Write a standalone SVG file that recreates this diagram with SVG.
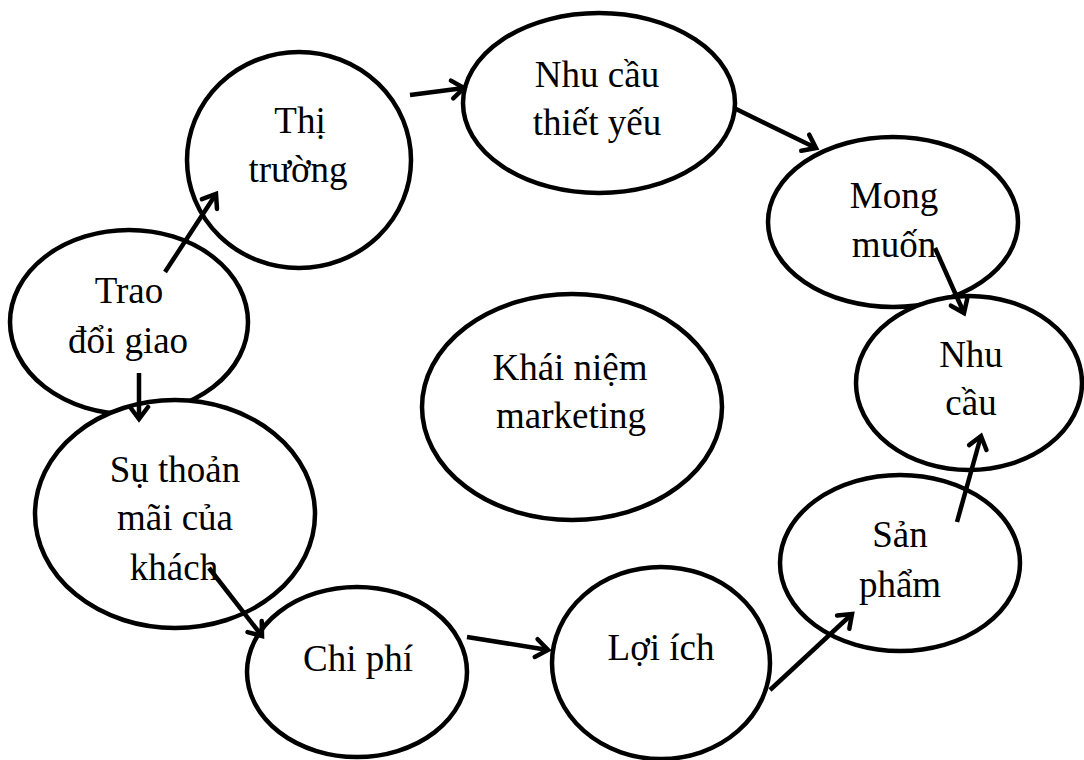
<svg xmlns="http://www.w3.org/2000/svg" width="1084" height="760" viewBox="0 0 1084 760">
<style>
.n{fill:#fff;stroke:#000;stroke-width:4.5}
.t{font-family:"Liberation Serif","Times New Roman",serif;font-size:37px;fill:#000;text-anchor:middle}
.c{stroke:#000;stroke-width:4.5;fill:none;marker-end:url(#ah)}
</style>
<defs>
<marker id="ah" markerUnits="userSpaceOnUse" viewBox="0 0 24 24" markerWidth="24" markerHeight="24" refX="16" refY="12" orient="auto">
<path d="M4,3 L16,12 L4,21" fill="none" stroke="#000" stroke-width="4.5" stroke-linejoin="miter" stroke-linecap="round"/>
</marker>
</defs>
<rect width="1084" height="760" fill="#fff"/>
<g id="node-thitruong"><ellipse class="n" cx="299" cy="160" rx="112" ry="108"/><text class="t" x="300" y="133">Thị</text><text class="t" x="298" y="182">trường</text></g>
<g id="node-traodoi"><ellipse class="n" cx="129" cy="322" rx="119" ry="92"/><text class="t" x="129" y="303">Trao</text><text class="t" x="128" y="353">đổi giao</text></g>
<g id="node-nhucauthietyeu"><ellipse class="n" cx="599" cy="103" rx="136" ry="90"/><text class="t" x="597" y="87">Nhu cầu</text><text class="t" x="597" y="135">thiết yếu</text></g>
<g id="node-mongmuon"><ellipse class="n" cx="893" cy="222" rx="125" ry="85"/><text class="t" x="894" y="208">Mong</text><text class="t" x="894" y="257">muốn</text></g>
<g id="node-nhucau"><ellipse class="n" cx="969" cy="383" rx="113" ry="87"/><text class="t" x="971" y="367">Nhu</text><text class="t" x="971" y="415">cầu</text></g>
<g id="node-khainiem"><ellipse class="n" cx="572" cy="407" rx="150" ry="113"/><text class="t" x="570" y="380">Khái niệm</text><text class="t" x="571" y="428">marketing</text></g>
<g id="node-suthoanmai"><ellipse class="n" cx="175" cy="514" rx="140" ry="114"/><text class="t" x="175" y="482">Sụ thoản</text><text class="t" x="175" y="530">mãi của</text><text class="t" x="174" y="580">khách</text></g>
<g id="node-chiphi"><ellipse class="n" cx="357" cy="672" rx="110" ry="85"/><text class="t" x="358" y="671">Chi phí</text></g>
<g id="node-loiich"><ellipse class="n" cx="661" cy="663" rx="109" ry="96"/><text class="t" x="661" y="660">Lợi ích</text></g>
<g id="node-sanpham"><ellipse class="n" cx="900" cy="563" rx="120" ry="88"/><text class="t" x="900" y="547">Sản</text><text class="t" x="900" y="597">phẩm</text></g>
<g id="connectors">
<line class="c" x1="165" y1="272" x2="216" y2="194"/>
<line class="c" x1="410" y1="95" x2="464" y2="88"/>
<line class="c" x1="734" y1="108" x2="816" y2="148"/>
<line class="c" x1="935" y1="248" x2="964" y2="313"/>
<line class="c" x1="139" y1="373" x2="139" y2="419"/>
<line class="c" x1="209" y1="568" x2="262" y2="636"/>
<line class="c" x1="467" y1="637" x2="548" y2="650"/>
<line class="c" x1="770" y1="690" x2="852" y2="614"/>
<line class="c" x1="957" y1="522" x2="981" y2="436"/>
</g>
</svg>
